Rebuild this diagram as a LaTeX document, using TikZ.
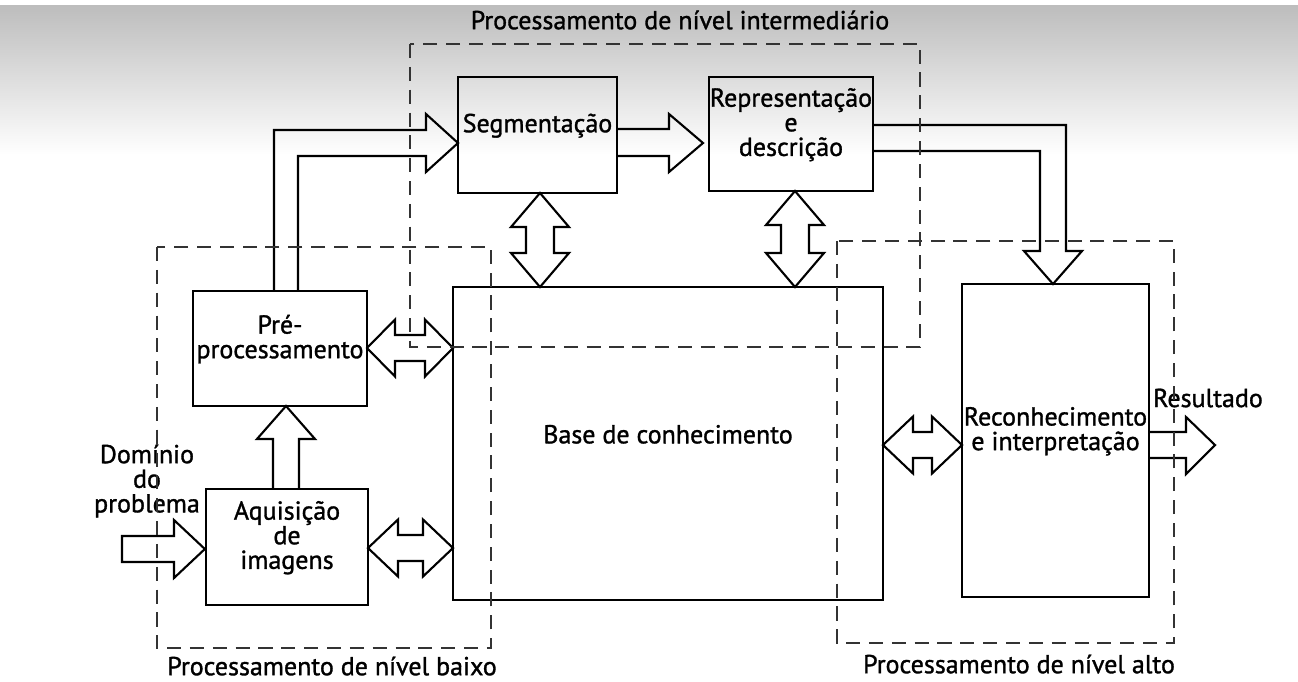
\documentclass[tikz,border=0pt]{standalone}
\usepackage{fontspec}
\setmainfont{PT Sans}[FakeBold=1.2]
\usetikzlibrary{fit}
\begin{document}
\begin{tikzpicture}[x=0.02cm,y=-0.02cm,
  box/.style={draw, line width=1.3pt, inner sep=0pt, align=center, font=\fontsize{14.8}{14}\selectfont},
  fat/.style={draw, line width=1.2pt, line join=miter},
  region/.style={draw=black!80, line width=1.6pt, dash pattern=on 8pt off 5pt},
  lbl/.style={font=\fontsize{14.8}{14}\selectfont, align=center, inner sep=0pt}
]
\useasboundingbox (0,0) rectangle (1298,681);
\fill[white] (0,0) rectangle (1298,681);
\shade[top color=black!26, bottom color=white] (0,5) rectangle (1298,155);

% boxes
\node[box, fit={(458,77)(617,193)}] (seg) {Segmentação};
\node[box, fit={(709,77)(873,191)}] (rep) {Representação\\e\\descrição};
\node[box, fit={(193,291)(367,406)}] (pre) {Pré-\\processamento};
\node[box, fit={(206,489)(368,605)}] (aq) {Aquisição\\de\\imagens};
\node[box, fit={(453,287)(883,600)}] (base) {Base de conhecimento};
\node[box, fit={(962,284)(1149,597)}] (rec) {Reconhecimento\\e interpretação};

% labels
\node[lbl] (tinter) at (680,20) {Processamento de nível intermediário};
\node[lbl] (tbaixo) at (332,666) {Processamento de nível baixo};
\node[lbl] (talto) at (1019,664) {Processamento de nível alto};
\node[lbl] (tres) at (1208,398) {Resultado};
\node[lbl] (tdom) at (147,481) {Domínio\\do\\problema};

% input arrow
\draw[fat] (122,536) -- (174,536) -- (174,520) -- (aq.west |- 0,549) -- (174,578) -- (174,562) -- (122,562) -- cycle;
% aq -> pre
\draw[fat] (273,489) -- (273,439) -- (257,439) -- (286,406) -- (315,439) -- (299,439) -- (299,489);
% pre -> seg
\draw[fat] (274,291) -- (274,130) -- (426,130) -- (426,114) -- (458,143) -- (426,172) -- (426,156) -- (298,156) -- (298,291);
% seg -> rep
\draw[fat] (617,129) -- (669,129) -- (669,114) -- (703,143) -- (669,172) -- (669,156) -- (617,156);
% rep -> rec
\draw[fat] (873,125) -- (1066,125) -- (1066,251) -- (1082,251) -- (1053,284) -- (1024,251) -- (1040,251) -- (1040,151) -- (873,151);
% rec -> result
\draw[fat] (1149,432) -- (1186,432) -- (1186,417) -- (1215,445) -- (1186,474) -- (1186,458) -- (1149,458);

% double arrows
\newcommand\hdarr[4]{% x1 x2 y h
  \draw[fat] (#1,#3) -- ({#1+#4},{#3-28.5}) -- ({#1+#4},{#3-13}) -- ({#2-#4},{#3-13}) -- ({#2-#4},{#3-28.5}) -- (#2,#3)
    -- ({#2-#4},{#3+28.5}) -- ({#2-#4},{#3+13}) -- ({#1+#4},{#3+13}) -- ({#1+#4},{#3+28.5}) -- cycle;}
\newcommand\vdarr[4]{% y1 y2 x h
  \draw[fat] (#3,#1) -- ({#3-29},{#1+#4}) -- ({#3-14},{#1+#4}) -- ({#3-14},{#2-#4}) -- ({#3-29},{#2-#4}) -- (#3,#2)
    -- ({#3+29},{#2-#4}) -- ({#3+14},{#2-#4}) -- ({#3+14},{#1+#4}) -- ({#3+29},{#1+#4}) -- cycle;}
\hdarr{367}{453}{348}{28}
\hdarr{368}{453}{548}{30}
\hdarr{883}{962}{445}{30}
\vdarr{193}{287}{540}{34}
\vdarr{191}{287}{795}{34}

% dashed regions
\draw[region] (410,44) rectangle (920,347);
\draw[region] (157,247) rectangle (491,648);
\draw[region] (837,241) rectangle (1174,643);
\end{tikzpicture}
\end{document}
